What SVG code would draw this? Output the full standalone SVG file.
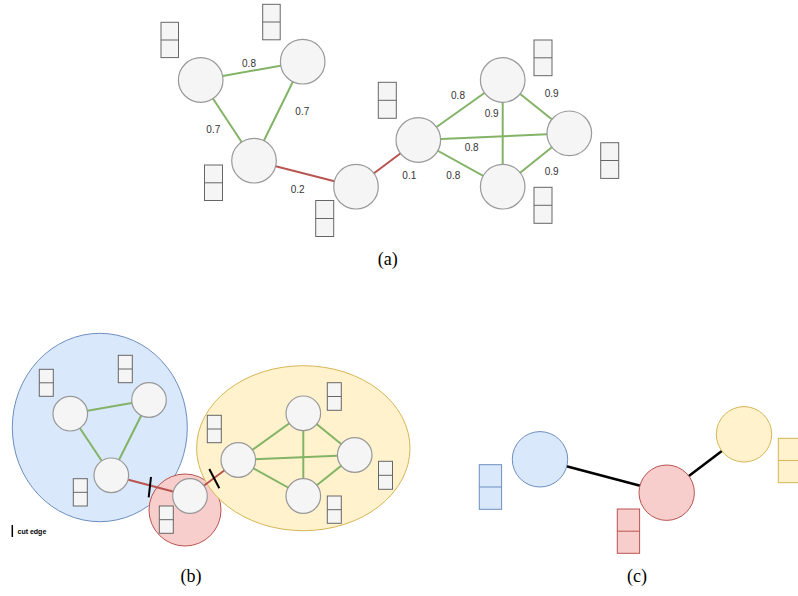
<svg xmlns="http://www.w3.org/2000/svg" width="798" height="596" viewBox="0 0 798 596">
<style>
.n{fill:#f5f5f5;stroke:#999999;stroke-width:1.2}
.r{fill:#f5f5f5;stroke:#666666;stroke-width:1}
.g{stroke:#82b366;stroke-width:2;fill:none}
.rd{stroke:#b85450;stroke-width:2;fill:none}
.k{stroke:#000;stroke-width:2.5;fill:none}
.cut{stroke:#000;stroke-width:2;fill:none}
.lb{font-family:"Liberation Sans",Arial,sans-serif;font-size:10px;fill:#333;text-anchor:middle}
.cap{font-family:"Liberation Serif","Times New Roman",serif;font-size:18px;fill:#000;text-anchor:middle}
</style>
<rect width="798" height="596" fill="#fff"/>

<!-- Panel (a) connectors -->
<g id="edges-a">
<line class="g" x1="200.7" y1="80" x2="302.7" y2="61.7"/>
<line class="g" x1="200.7" y1="80" x2="254" y2="160.7"/>
<line class="g" x1="302.7" y1="61.7" x2="254" y2="160.7"/>
<line class="rd" x1="254" y1="160.7" x2="356" y2="186.7"/>
<line class="rd" x1="356" y1="186.7" x2="418.3" y2="140"/>
<line class="g" x1="418.3" y1="140" x2="502.7" y2="80"/>
<line class="g" x1="418.3" y1="140" x2="569.3" y2="133.3"/>
<line class="g" x1="418.3" y1="140" x2="502.7" y2="186.7"/>
<line class="g" x1="502.7" y1="80" x2="569.3" y2="133.3"/>
<line class="g" x1="502.7" y1="80" x2="502.7" y2="186.7"/>
<line class="g" x1="569.3" y1="133.3" x2="502.7" y2="186.7"/>
</g>
<g id="labels-a">
<text class="lb" x="249" y="67">0.8</text>
<text class="lb" x="302.3" y="114.5">0.7</text>
<text class="lb" x="213.3" y="132.5">0.7</text>
<text class="lb" x="297.7" y="192.5">0.2</text>
<text class="lb" x="458" y="98.5">0.8</text>
<text class="lb" x="551.7" y="96.5">0.9</text>
<text class="lb" x="491.7" y="117">0.9</text>
<text class="lb" x="471.7" y="150.5">0.8</text>
<text class="lb" x="409.3" y="179">0.1</text>
<text class="lb" x="453.3" y="179">0.8</text>
<text class="lb" x="551.7" y="174.5">0.9</text>
</g>
<g id="a-n1"><circle class="n" cx="200.7" cy="80" r="22.3"/><rect class="r" x="161" y="22.3" width="17.5" height="35.3"/><line class="r" x1="161" y1="40" x2="178.5" y2="40"/></g>
<g id="a-n2"><circle class="n" cx="302.7" cy="61.7" r="22.3"/><rect class="r" x="262.7" y="4.3" width="17.5" height="35.5"/><line class="r" x1="262.7" y1="22" x2="280.2" y2="22"/></g>
<g id="a-n3"><circle class="n" cx="254" cy="160.7" r="22.3"/><rect class="r" x="204.5" y="165" width="18" height="35.5"/><line class="r" x1="204.5" y1="182.8" x2="222.5" y2="182.8"/></g>
<g id="a-n4"><circle class="n" cx="356" cy="186.7" r="22.3"/><rect class="r" x="315.7" y="200.5" width="18" height="36"/><line class="r" x1="315.7" y1="218.5" x2="333.7" y2="218.5"/></g>
<g id="a-n5"><circle class="n" cx="418.3" cy="140" r="22.3"/><rect class="r" x="378.3" y="82.3" width="18" height="36"/><line class="r" x1="378.3" y1="100.3" x2="396.3" y2="100.3"/></g>
<g id="a-n6"><circle class="n" cx="502.7" cy="80" r="22.3"/><rect class="r" x="534" y="40" width="18" height="35.7"/><line class="r" x1="534" y1="57.8" x2="552" y2="57.8"/></g>
<g id="a-n7"><circle class="n" cx="569.3" cy="133.3" r="22.3"/><rect class="r" x="600.7" y="142.7" width="18" height="35.7"/><line class="r" x1="600.7" y1="160.5" x2="618.7" y2="160.5"/></g>
<g id="a-n8"><circle class="n" cx="502.7" cy="186.7" r="22.3"/><rect class="r" x="534" y="187.3" width="18" height="36"/><line class="r" x1="534" y1="205.3" x2="552" y2="205.3"/></g>
<text class="cap" x="387.8" y="265">(a)</text>

<!-- Panel (b) -->
<g id="b-cluster-blue"><ellipse cx="99.8" cy="427.5" rx="87.5" ry="94.2" fill="#dae8fc" stroke="#6c8ebf" stroke-width="1"/></g>
<g id="b-cluster-red"><circle cx="185" cy="510" r="36" fill="#f8cecc" stroke="#b85450" stroke-width="1"/></g>
<g id="b-cluster-yellow"><ellipse cx="303.3" cy="448.2" rx="106.7" ry="82.5" fill="#fff2cc" stroke="#d6b656" stroke-width="1"/></g>
<g id="edges-b">
<line class="g" x1="70.3" y1="413.7" x2="149" y2="400"/>
<line class="g" x1="70.3" y1="413.7" x2="111.3" y2="475.3"/>
<line class="g" x1="149" y1="400" x2="111.3" y2="475.3"/>
<line class="rd" x1="111.3" y1="475.3" x2="190" y2="496"/>
<line class="rd" x1="190" y1="496" x2="238.3" y2="460"/>
<line class="g" x1="238.3" y1="460" x2="303.3" y2="413.3"/>
<line class="g" x1="238.3" y1="460" x2="354.7" y2="455"/>
<line class="g" x1="238.3" y1="460" x2="303.3" y2="496"/>
<line class="g" x1="303.3" y1="413.3" x2="303.3" y2="496"/>
<line class="g" x1="303.3" y1="413.3" x2="354.7" y2="455"/>
<line class="g" x1="354.7" y1="455" x2="303.3" y2="496"/>
<line class="cut" x1="151" y1="477" x2="148.7" y2="497.3"/>
<line class="cut" x1="209.3" y1="469" x2="219.3" y2="488.3"/>
</g>
<g id="b-n1"><circle class="n" cx="70.3" cy="413.7" r="17.3"/><rect class="r" x="39.3" y="369.3" width="14" height="27"/><line class="r" x1="39.3" y1="382.8" x2="53.3" y2="382.8"/></g>
<g id="b-n2"><circle class="n" cx="149" cy="400" r="17.3"/><rect class="r" x="118.3" y="355.3" width="14" height="27.4"/><line class="r" x1="118.3" y1="369" x2="132.3" y2="369"/></g>
<g id="b-n3"><circle class="n" cx="111.3" cy="475.3" r="17.3"/><rect class="r" x="73.3" y="478.7" width="14" height="27.3"/><line class="r" x1="73.3" y1="492.3" x2="87.3" y2="492.3"/></g>
<g id="b-n4"><circle class="n" cx="190" cy="496" r="17.3"/><rect class="r" x="159.3" y="506" width="14" height="27.3"/><line class="r" x1="159.3" y1="519.7" x2="173.3" y2="519.7"/></g>
<g id="b-n5"><circle class="n" cx="238.3" cy="460" r="17.3"/><rect class="r" x="207.3" y="415.3" width="14" height="27.4"/><line class="r" x1="207.3" y1="429" x2="221.3" y2="429"/></g>
<g id="b-n6"><circle class="n" cx="303.3" cy="413.3" r="17.3"/><rect class="r" x="327.3" y="382.7" width="14" height="27.6"/><line class="r" x1="327.3" y1="396.5" x2="341.3" y2="396.5"/></g>
<g id="b-n7"><circle class="n" cx="354.7" cy="455" r="17.3"/><rect class="r" x="378.5" y="461.3" width="14" height="28"/><line class="r" x1="378.5" y1="475.3" x2="392.5" y2="475.3"/></g>
<g id="b-n8"><circle class="n" cx="303.3" cy="496" r="17.3"/><rect class="r" x="327.3" y="496" width="14" height="27.3"/><line class="r" x1="327.3" y1="509.7" x2="341.3" y2="509.7"/></g>
<g id="legend">
<line x1="12.3" y1="525" x2="12.3" y2="537" stroke="#000" stroke-width="1.5"/>
<text x="17.5" y="534" font-family="'Liberation Sans',Arial,sans-serif" font-size="7" font-weight="bold" fill="#000">cut edge</text>
</g>
<text class="cap" x="191" y="582">(b)</text>

<!-- Panel (c) -->
<g id="edges-c">
<line class="k" x1="540" y1="459.3" x2="666.7" y2="492.7"/>
<line class="k" x1="666.7" y1="492.7" x2="744" y2="434.3"/>
</g>
<g id="c-blue"><circle cx="540" cy="459.3" r="27.7" fill="#dae8fc" stroke="#6c8ebf" stroke-width="1"/><rect x="479.3" y="464.7" width="22.3" height="44.6" fill="#dae8fc" stroke="#6c8ebf" stroke-width="1"/><line x1="479.3" y1="487" x2="501.6" y2="487" stroke="#6c8ebf" stroke-width="1"/></g>
<g id="c-red"><circle cx="666.7" cy="492.7" r="27.7" fill="#f8cecc" stroke="#b85450" stroke-width="1"/><rect x="617.3" y="509" width="22.3" height="44.3" fill="#f8cecc" stroke="#b85450" stroke-width="1"/><line x1="617.3" y1="531.2" x2="639.6" y2="531.2" stroke="#b85450" stroke-width="1"/></g>
<g id="c-yellow"><circle cx="744" cy="434.3" r="27.7" fill="#fff2cc" stroke="#d6b656" stroke-width="1"/><rect x="778.3" y="438.3" width="22.3" height="44.4" fill="#fff2cc" stroke="#d6b656" stroke-width="1"/><line x1="778.3" y1="460.5" x2="800.6" y2="460.5" stroke="#d6b656" stroke-width="1"/></g>
<text class="cap" x="637" y="582">(c)</text>
</svg>
